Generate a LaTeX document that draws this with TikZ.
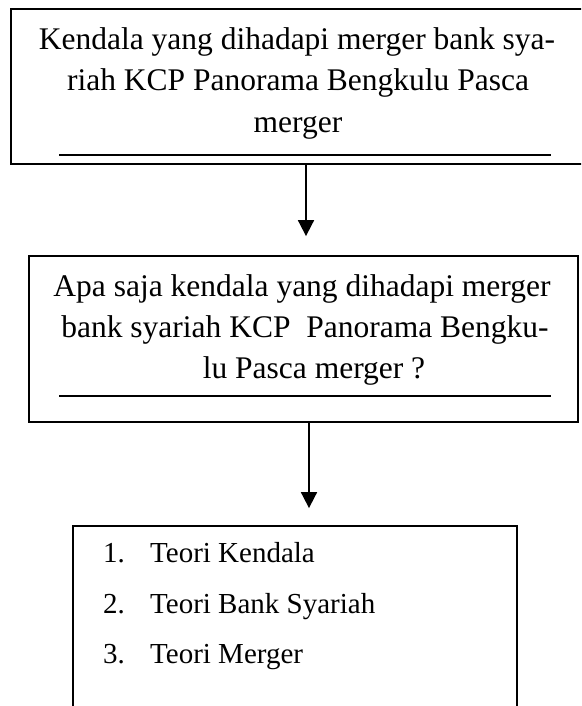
\documentclass[tikz,border=0pt]{standalone}
\usepackage{fontspec}
\setmainfont{Liberation Serif}
\usetikzlibrary{arrows.meta}
\begin{document}
\begin{tikzpicture}[x=1pt,y=-1pt,
  boxstyle/.style={draw=black,line width=1.8pt,inner sep=0pt,fill=none},
  linestyle/.style={line width=1.8pt},
  arr/.style={line width=1.8pt,-{Triangle[width=16pt,length=16pt]}},
  boxtext/.style={inner sep=0pt,anchor=base,font=\fontsize{31.5}{41}\selectfont},
  listtext/.style={inner sep=0pt,anchor=base west,font=\fontsize{29}{50}\selectfont}]
\useasboundingbox (0,0) rectangle (581,706);
\clip (0,0) rectangle (581,706);
% boxes
\node[boxstyle,minimum width=590pt,minimum height=155pt] (box1) at (306,86.5) {};
\node[boxstyle,minimum width=549pt,minimum height=166pt] (box2) at (303.5,339) {};
\node[boxstyle,minimum width=444pt,minimum height=230pt] (box3) at (295,641) {};
% box 1 text
\node[boxtext] (t1a) at (297,50) {Kendala yang dihadapi merger bank sya-};
\node[boxtext] (t1b) at (298,91) {riah KCP Panorama Bengkulu Pasca};
\node[boxtext] (t1c) at (298,132) {merger};
\draw[linestyle] (59,155) -- (551,155);
% box 2 text
\node[boxtext] (t2a) at (302,296) {Apa saja kendala yang dihadapi merger};
\node[boxtext] (t2b) at (305,337) {bank syariah KCP\ \ Panorama Bengku-};
\node[boxtext] (t2c) at (314,378) {lu Pasca merger ?};
\draw[linestyle] (59,396) -- (551,396);
% list
\node[listtext] (n1) at (103,562) {1.};
\node[listtext] (l1) at (150,562) {Teori Kendala};
\node[listtext] (n2) at (103,613) {2.};
\node[listtext] (l2) at (150,613) {Teori Bank Syariah};
\node[listtext] (n3) at (103,663) {3.};
\node[listtext] (l3) at (150,663) {Teori Merger};
% arrows
\draw[arr,shorten >=19pt] (box1.south) -- (box1.south |- box2.north);
\draw[arr,shorten >=17pt] ([xshift=5.5pt]box2.south) -- ([xshift=5.5pt]box2.south |- box3.north);
\end{tikzpicture}
\end{document}
